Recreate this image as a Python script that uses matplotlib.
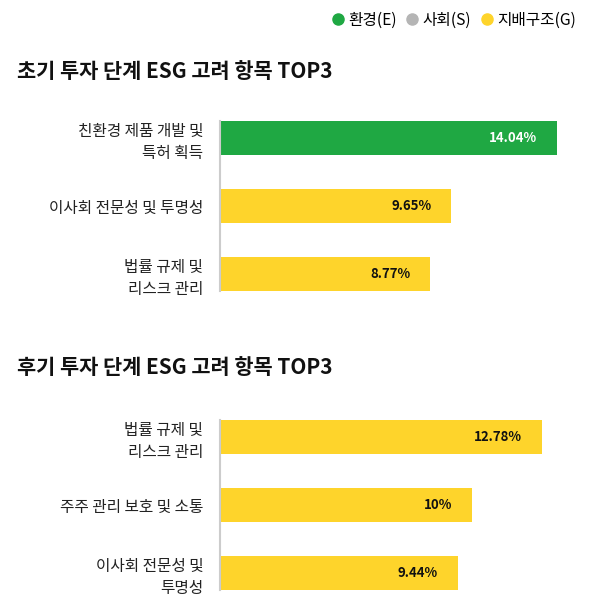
import matplotlib
matplotlib.use('Agg')
import matplotlib.pyplot as plt
from matplotlib.lines import Line2D

plt.rcParams['font.family'] = ['Noto Sans CJK KR', 'DejaVu Sans']

# data
early_title = '초기 투자 단계 ESG 고려 항목 TOP3'
early_cats = ['친환경 제품 개발 및\n특허 획득', '이사회 전문성 및 투명성', '법률 규제 및\n리스크 관리']
early_vals = [14.04, 9.65, 8.77]
early_groups = ['E', 'G', 'G']

late_title = '후기 투자 단계 ESG 고려 항목 TOP3'
late_cats = ['법률 규제 및\n리스크 관리', '주주 관리 보호 및 소통', '이사회 전문성 및\n투명성']
late_vals = [12.78, 10, 9.44]
late_groups = ['G', 'G', 'G']

legend_labels = ['환경(E)', '사회(S)', '지배구조(G)']

colors = {'E': '#1fa843', 'S': '#b5b5b5', 'G': '#fed42b'}
text_colors = {'E': 'white', 'S': '#111111', 'G': '#111111'}

W, H = 598, 612
fig = plt.figure(figsize=(W / 100, H / 100), dpi=100)


def px_axes(x0, y0, x1, y1):
    return fig.add_axes([x0 / W, 1 - y1 / H, (x1 - x0) / W, (y1 - y0) / H])


def draw_panel(ax, cats, vals, groups, xmax):
    pos = range(len(cats))
    ax.barh(pos, vals, height=0.5, color=[colors[g] for g in groups])
    for i, (v, g) in enumerate(zip(vals, groups)):
        lbl = f'{v:g}%' if v == int(v) else f'{v:.2f}%'
        ax.annotate(lbl, (v, i), xytext=(-20, 0), textcoords='offset pixels',
                    ha='right', va='center', fontsize=9.5, fontweight='bold',
                    color=text_colors[g])
    ax.set_ylim(len(cats) - 0.75, -0.25)
    ax.set_xlim(0, xmax)
    ax.set_yticks(list(pos))
    ax.set_yticklabels(cats, fontsize=11.3, color='#222222')
    for t in ax.get_yticklabels():
        t.set_linespacing(1.35)
    ax.tick_params(axis='y', length=0, pad=12)
    ax.set_xticks([])
    for s in ['top', 'right', 'bottom']:
        ax.spines[s].set_visible(False)
    ax.spines['left'].set_color('#cccccc')
    ax.spines['left'].set_linewidth(1.5)


ax1 = px_axes(220, 121, 570, 291)
draw_panel(ax1, early_cats, early_vals, early_groups, 14.6)
ax2 = px_axes(220, 420, 570, 590)
draw_panel(ax2, late_cats, late_vals, late_groups, 13.9)

fig.text(17 / W, 1 - 71 / H, early_title, fontsize=15, fontweight='bold',
         va='center', ha='left', color='#111111')
fig.text(17 / W, 1 - 368 / H, late_title, fontsize=15, fontweight='bold',
         va='center', ha='left', color='#111111')

handles = [Line2D([], [], marker='o', linestyle='', markersize=8,
                  markerfacecolor=colors[g], markeredgecolor=colors[g])
           for g in ['E', 'S', 'G']]
fig.legend(handles, legend_labels, loc='center right',
           bbox_to_anchor=(582 / W, 1 - 20 / H), ncol=3, frameon=False,
           fontsize=11.3, handletextpad=0.15, columnspacing=0.5,
           handlelength=1.0, borderaxespad=0)

fig.savefig('out.png', dpi=100, facecolor='white')
